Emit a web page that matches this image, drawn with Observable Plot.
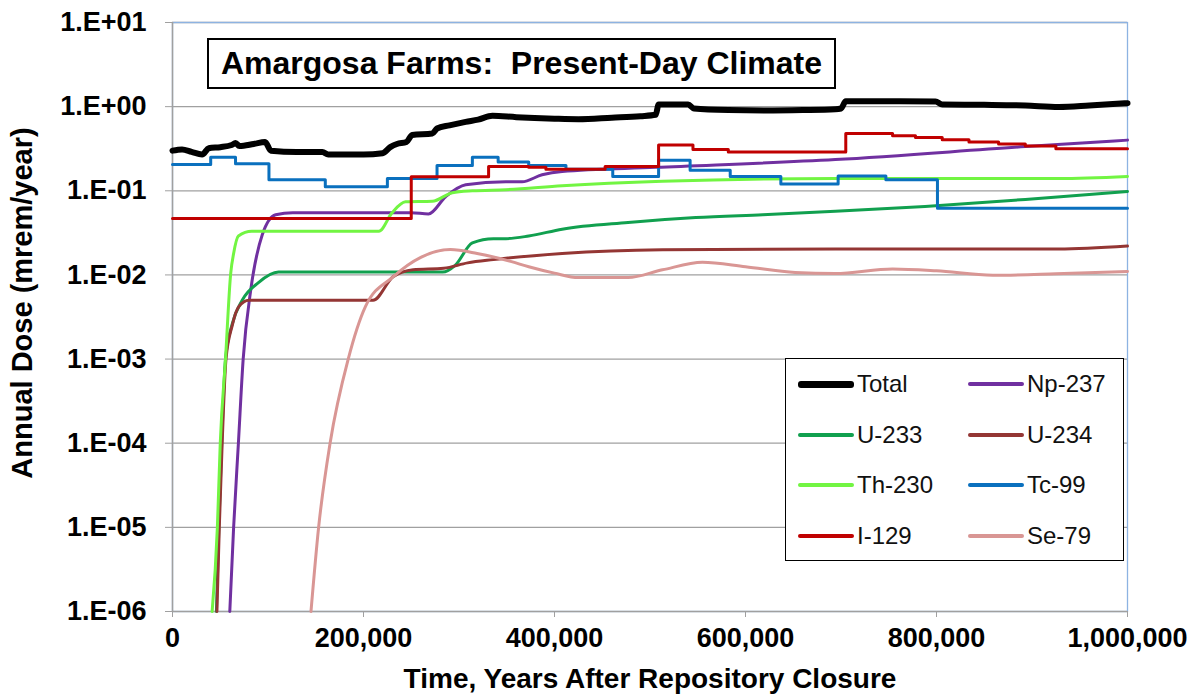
<!DOCTYPE html>
<html>
<head>
<meta charset="utf-8">
<script src="https://cdn.jsdelivr.net/npm/d3@7"></script>
<script src="https://cdn.jsdelivr.net/npm/@observablehq/plot@0.6"></script>
<style>
  html, body { margin: 0; padding: 0; background: #fff; }
  #wrap { position: relative; width: 1201px; height: 700px; font-family: "Liberation Sans", Arial, sans-serif; }
  #title { position: absolute; left: 207px; top: 38px; width: 629px; height: 51px; border: 2px solid #000; background: #fff;
           box-sizing: border-box; font-weight: bold; font-size: 32px; line-height: 47px; text-align: center; white-space: pre; }
  #legend { position: absolute; left: 785px; top: 358px; width: 339px; height: 203px; border: 1.5px solid #000; background: #fff; box-sizing: border-box; }
  .li { position: absolute; font-size: 24px; height: 30px; line-height: 30px; color: #111; }
  .sw { position: absolute; border-radius: 3px; }
</style>
</head>
<body>
<div id="wrap"></div>
<script>
// ---- data ----
const seriesNames = ["Total", "Np-237", "U-233", "U-234", "Th-230", "Tc-99", "I-129", "Se-79"];
const seriesColors = ["#000000", "#7030a0", "#11a04f", "#943634", "#72f542", "#0a70be", "#c00000", "#d99694"];
const seriesWidths = [6, 3, 3, 3, 3, 3, 3, 3];

const total = [[0,0.30],[10000,0.31],[20000,0.29],[31000,0.27],[38000,0.32],[50000,0.33],[62000,0.35],[66000,0.37],[70000,0.34],[85000,0.36],[97000,0.38],[103000,0.30],[130000,0.29],[157000,0.29],[163000,0.27],[200000,0.27],[220000,0.28],[228000,0.33],[235000,0.36],[245000,0.38],[251000,0.46],[272000,0.48],[277000,0.55],[290000,0.60],[307000,0.66],[320000,0.70],[335000,0.78],[360000,0.75],[400000,0.72],[425000,0.71],[460000,0.74],[490000,0.77],[506000,0.80],[509000,1.06],[540000,1.06],[546000,0.95],[582000,0.91],[620000,0.90],[660000,0.91],[694000,0.93],[700000,0.95],[705000,1.16],[760000,1.16],[799000,1.15],[806000,1.06],[850000,1.05],[893000,1.03],[928000,0.99],[960000,1.03],[1000000,1.10]];
const np237 = [[60000,1e-6],[64000,1e-5],[69000,1e-4],[74000,1e-3],[82000,0.0067],[94000,0.030],[108000,0.052],[126000,0.055],[250000,0.055],[268000,0.053],[286000,0.085],[307000,0.118],[349000,0.128],[366000,0.128],[387000,0.155],[408000,0.17],[506000,0.19],[694000,0.235],[893000,0.335],[1000000,0.40]];
const u233 = [[46000,1e-6],[48500,1e-5],[51500,1e-4],[55500,1e-3],[62500,0.0026],[73000,0.005],[90000,0.0081],[111000,0.0108],[283000,0.0108],[296000,0.013],[314000,0.024],[336000,0.027],[349000,0.027],[373000,0.029],[408000,0.035],[477000,0.042],[548000,0.048],[618000,0.052],[694000,0.057],[788000,0.065],[893000,0.079],[1000000,0.098]];
const u234 = [[46500,1e-6],[49000,1e-5],[52000,1e-4],[56000,1e-3],[62500,0.0025],[69400,0.0042],[80000,0.0050],[210000,0.0050],[231000,0.0095],[252000,0.0115],[284000,0.012],[309000,0.0139],[336000,0.0152],[408000,0.018],[513000,0.0199],[694000,0.0203],[928000,0.0203],[1000000,0.022]];
const th230 = [[41500,1e-6],[47000,1e-5],[50000,1e-4],[55500,1e-3],[61000,0.0106],[64000,0.018],[69000,0.029],[83000,0.033],[216000,0.033],[230000,0.055],[244000,0.074],[272000,0.075],[293000,0.095],[314000,0.100],[349000,0.103],[408000,0.115],[513000,0.130],[694000,0.140],[928000,0.140],[1000000,0.148]];
const tc99 = [[0,0.205],[40000,0.205],[40000,0.25],[66000,0.25],[66000,0.21],[101000,0.21],[101000,0.135],[160000,0.135],[160000,0.112],[225000,0.112],[225000,0.14],[277000,0.14],[277000,0.20],[314000,0.20],[314000,0.25],[341000,0.25],[341000,0.22],[373000,0.22],[373000,0.20],[412000,0.20],[412000,0.18],[461000,0.18],[461000,0.148],[509000,0.148],[509000,0.23],[542000,0.23],[542000,0.175],[584000,0.175],[584000,0.148],[637000,0.148],[637000,0.12],[697000,0.12],[697000,0.15],[747000,0.15],[747000,0.135],[801000,0.135],[801000,0.062],[1000000,0.062]];
const i129 = [[0,0.047],[250000,0.047],[250000,0.147],[331000,0.147],[331000,0.195],[373000,0.195],[373000,0.19],[391000,0.19],[391000,0.18],[453000,0.18],[453000,0.195],[509000,0.195],[509000,0.35],[545000,0.35],[545000,0.31],[582000,0.31],[582000,0.29],[705000,0.29],[705000,0.48],[754000,0.48],[754000,0.45],[778000,0.45],[778000,0.43],[806000,0.43],[806000,0.405],[834000,0.405],[834000,0.38],[865000,0.38],[865000,0.36],[893000,0.36],[893000,0.34],[925000,0.34],[925000,0.315],[1000000,0.315]];
const se79 = [[145000,1e-6],[153000,1e-5],[165000,1e-4],[184000,1e-3],[202000,0.0042],[231000,0.0095],[260000,0.0162],[291000,0.020],[319000,0.018],[354000,0.0145],[373000,0.0125],[400000,0.0105],[425000,0.0093],[477000,0.0093],[513000,0.0115],[555000,0.0141],[600000,0.0125],[652000,0.0107],[694000,0.0104],[754000,0.0118],[800000,0.0112],[859000,0.0099],[925000,0.0103],[1000000,0.011]];
const seriesData = [total, np237, u233, u234, th230, tc99, i129, se79];

const yTicks = [1e-6, 1e-5, 1e-4, 1e-3, 1e-2, 1e-1, 1, 10];
const yTickLabels = ["1.E-06", "1.E-05", "1.E-04", "1.E-03", "1.E-02", "1.E-01", "1.E+00", "1.E+01"];
const xTicks = [0, 200000, 400000, 600000, 800000, 1000000];
const xTickLabels = ["0", "200,000", "400,000", "600,000", "800,000", "1,000,000"];

const chartTitle = "Amargosa Farms:  Present-Day Climate";
const xTitle = "Time, Years After Repository Closure";
const yTitle = "Annual Dose (mrem/year)";

// ---- build ----
const lineMarks = seriesData.map((d, i) => Plot.line(d, {
  x: p => p[0], y: p => p[1],
  stroke: seriesColors[i], strokeWidth: seriesWidths[i],
  curve: (i === 5 || i === 6) ? "linear" : "monotone-x",
  strokeLinejoin: "round", strokeLinecap: "round"
}));

const chart = Plot.plot({
  width: 1201, height: 700,
  marginLeft: 172, marginRight: 74, marginTop: 22, marginBottom: 89,
  style: { fontFamily: "'Liberation Sans', Arial, sans-serif", fontWeight: "bold", background: "#fff", color: "#000" },
  x: { domain: [0, 1000000] },
  y: { type: "log", domain: [1e-6, 10] },
  marks: [
    Plot.ruleY(yTicks.slice(1), { stroke: "#a0a0a0", strokeWidth: 1.3 }),
    Plot.frame({ stroke: "#8db3e2", strokeWidth: 1.3 }),
    Plot.ruleX([0], { stroke: "#a0a0a0", strokeWidth: 1.5 }),
    Plot.ruleY([1e-6], { stroke: "#a0a0a0", strokeWidth: 1.5 }),
    ...lineMarks,
    Plot.axisY(yTicks, { tickFormat: (d) => yTickLabels[yTicks.indexOf(d)], tickSize: 7, tickPadding: 19, stroke: "#a0a0a0", fontSize: 27, label: null, fill: "#000" }),
    Plot.axisX(xTicks, { tickFormat: (d) => xTickLabels[xTicks.indexOf(d)], tickSize: 6, tickPadding: 10, stroke: "#a0a0a0", fontSize: 27, label: null, fill: "#000" }),
    Plot.text([yTitle], { frameAnchor: "left", dx: -150, dy: -14, rotate: -90, textAnchor: "middle", fontSize: 29, fontWeight: "bold", fill: "#000" }),
    Plot.text([xTitle], { frameAnchor: "bottom", dy: 76, fontSize: 28, fontWeight: "bold", fill: "#000" })
  ]
});

const wrap = document.getElementById("wrap");
wrap.appendChild(chart);

const t = document.createElement("div");
t.id = "title"; t.textContent = chartTitle;
wrap.appendChild(t);

const lg = document.createElement("div");
lg.id = "legend";
const rowsY = [25, 76, 126, 177];
seriesNames.forEach((name, i) => {
  const col = i % 2, row = Math.floor(i / 2);
  const sx = col === 0 ? 12 : 182;
  const sw = document.createElement("div");
  sw.className = "sw";
  const h = seriesWidths[i] === 6 ? 7 : 4;
  sw.style.cssText = `left:${sx}px;top:${rowsY[row] - h / 2}px;width:56px;height:${h}px;background:${seriesColors[i]};`;
  lg.appendChild(sw);
  const lab = document.createElement("div");
  lab.className = "li";
  lab.style.left = (sx + 59) + "px";
  lab.style.top = (rowsY[row] - 15) + "px";
  lab.textContent = name;
  lg.appendChild(lab);
});
wrap.appendChild(lg);
</script>
</body>
</html>
